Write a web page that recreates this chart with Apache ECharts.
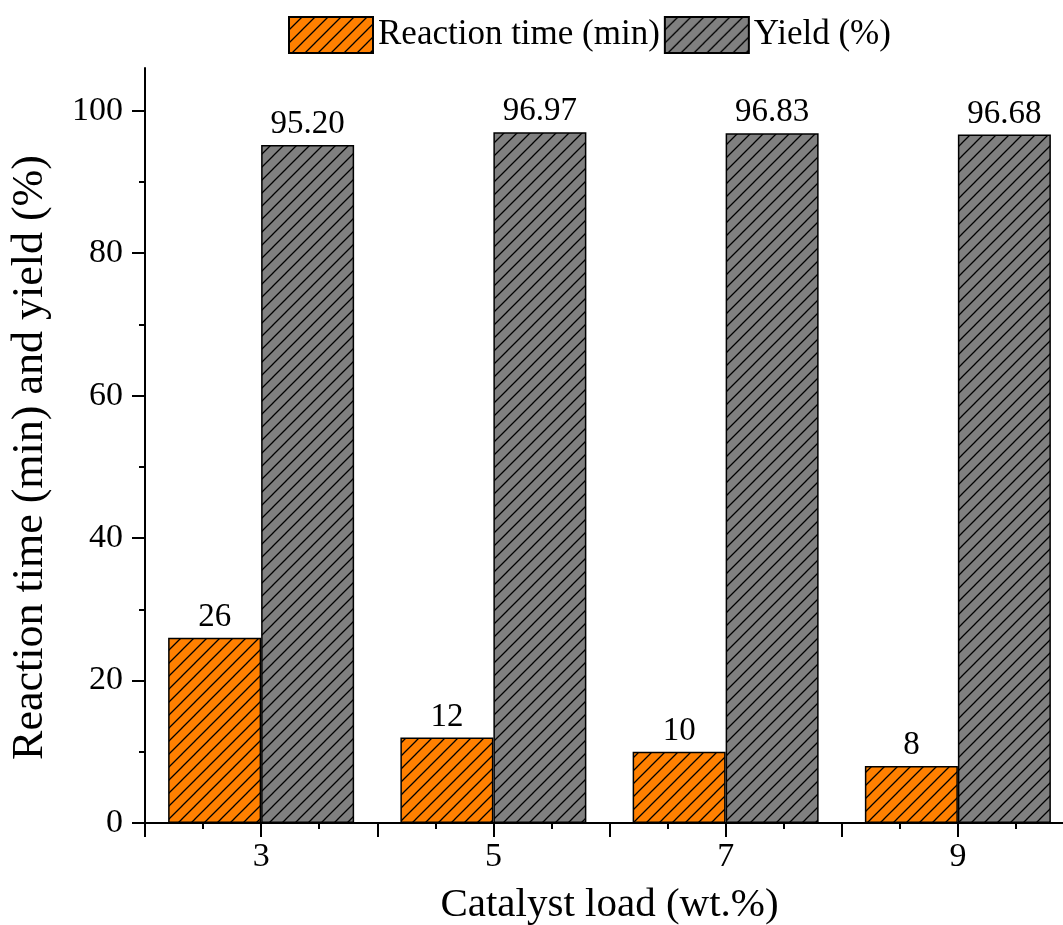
<!DOCTYPE html>
<html>
<head>
<meta charset="utf-8">
<script src="https://cdn.jsdelivr.net/npm/echarts@6/dist/echarts.min.js"></script>
<style>
  html, body { margin: 0; padding: 0; background: #fff; }
  #my_chart { width: 1063px; height: 925px; }
</style>
</head>
<body>
<div id="my_chart"></div>
<script>
// catalyst load (wt.%)
var loads = [3, 5, 7, 9];
// reaction time (min)
var reactionTime = [26, 12, 10, 8];
// yield (%)
var yieldPct = [95.20, 96.97, 96.83, 96.68];
// y axis ticks
var yMajor = [0, 20, 40, 60, 80, 100];
var yMinor = [10, 30, 50, 70, 90];

var FONT = '"Liberation Serif", "Times New Roman", serif';

// hatched fill  ///
function hatch(fill) {
    var s = 13;
    var c = document.createElement('canvas');
    c.width = s;
    c.height = s;
    var ctx = c.getContext('2d');
    ctx.fillStyle = fill;
    ctx.fillRect(0, 0, s, s);
    ctx.strokeStyle = '#000';
    ctx.lineWidth = 1.3;
    ctx.beginPath();
    ctx.moveTo(-2, s + 2); ctx.lineTo(s + 2, -2);
    ctx.moveTo(-2, 2); ctx.lineTo(2, -2);
    ctx.moveTo(s - 2, s + 2); ctx.lineTo(s + 2, s - 2);
    ctx.stroke();
    return {image: c, repeat: 'repeat'};
}

var data1 = loads.map(function (x, i) { return [x, reactionTime[i]]; });
var data2 = loads.map(function (x, i) { return [x, yieldPct[i]]; });

var myChart = echarts.init(document.getElementById('my_chart'));
var option = {
    backgroundColor: '#fff',
    animation: false,
    textStyle: {fontFamily: FONT, color: '#000'},
    legend: {
        left: 288,
        top: 16,
        padding: 0,
        icon: 'rect',
        itemWidth: 84,
        itemHeight: 36,
        itemGap: 4,
        textStyle: {fontFamily: FONT, fontSize: 35, color: '#000'},
        data: ['Reaction time (min)', 'Yield (%)']
    },
    grid: {left: 145, width: 929, top: 68, height: 755, containLabel: false, outerBoundsMode: 'none'},
    xAxis: [{
        type: 'value',
        min: 2,
        max: 10,
        interval: 1,
        name: 'Catalyst load (wt.%)',
        nameLocation: 'middle',
        nameGap: 62,
        nameTextStyle: {fontFamily: FONT, fontSize: 41, color: '#000'},
        splitLine: {show: false},
        axisLine: {lineStyle: {color: '#000', width: 2}},
        axisTick: {length: 14, lineStyle: {color: '#000', width: 2}},
        minorTick: {show: true, splitNumber: 2, length: 6, lineStyle: {color: '#000', width: 2}},
        axisLabel: {
            fontFamily: FONT, fontSize: 34, color: '#000', margin: 17,
            formatter: function (v) { return v % 2 === 1 ? String(v) : ''; }
        }
    }],
    yAxis: [{
        type: 'value',
        position: 'left',
        min: 0,
        max: 106,
        name: 'Reaction time (min) and yield (%)',
        nameLocation: 'middle',
        nameGap: 93,
        nameTextStyle: {fontFamily: FONT, fontSize: 44, color: '#000', padding: [0, 24, 0, 0]},
        splitLine: {show: false},
        axisLine: {show: true, lineStyle: {color: '#000', width: 2}},
        axisTick: {show: true, length: 13, customValues: yMajor, lineStyle: {color: '#000', width: 2}},
        axisLabel: {fontFamily: FONT, fontSize: 34, color: '#000', margin: 22, customValues: yMajor}
    }, {
        type: 'value',
        position: 'left',
        min: 0,
        max: 106,
        splitLine: {show: false},
        axisLine: {show: false},
        axisTick: {show: true, length: 6, customValues: yMinor, lineStyle: {color: '#000', width: 2}},
        axisLabel: {show: false}
    }],
    series: [{
        name: 'Reaction time (min)',
        type: 'bar',
        barWidth: 93,
        barGap: '0%',
        itemStyle: {color: hatch('#FF8000'), borderColor: '#000', borderWidth: 1.5},
        label: {
            show: true, position: 'top', distance: 4,
            fontFamily: FONT, fontSize: 33, color: '#000',
            formatter: function (p) { return String(p.value[1]); }
        },
        data: data1
    }, {
        name: 'Yield (%)',
        type: 'bar',
        barWidth: 93,
        barGap: '0%',
        itemStyle: {color: hatch('#808080'), borderColor: '#000', borderWidth: 1.5},
        label: {
            show: true, position: 'top', distance: 4,
            fontFamily: FONT, fontSize: 33, color: '#000',
            formatter: function (p) { return p.value[1].toFixed(2); }
        },
        data: data2
    }]
};
myChart.setOption(option);
</script>
</body>
</html>
